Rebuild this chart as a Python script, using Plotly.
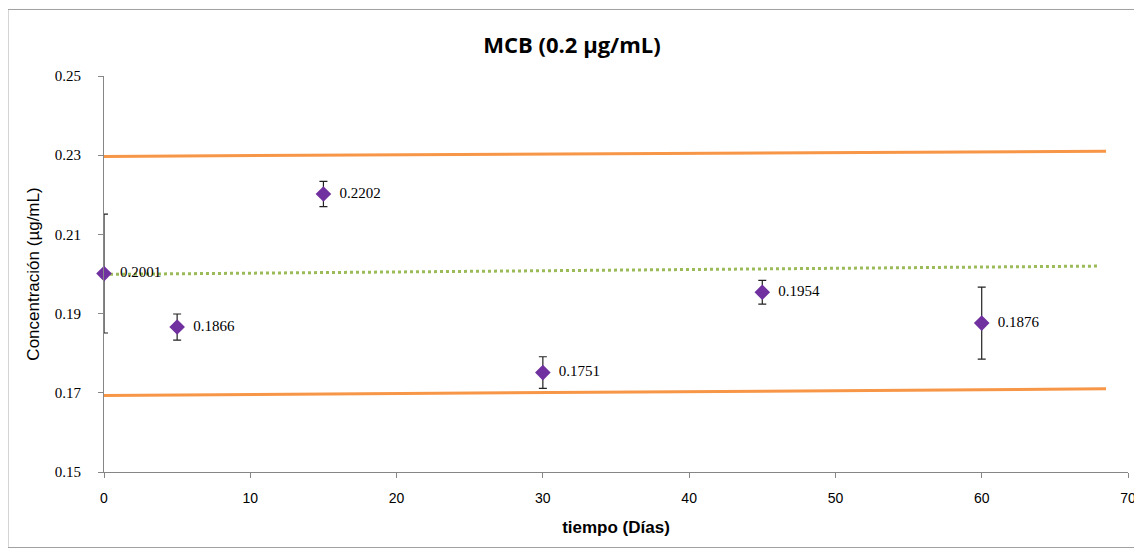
import plotly.graph_objects as go

# Data
dias = [0, 5, 15, 30, 45, 60]
concentracion = [0.2001, 0.1866, 0.2202, 0.1751, 0.1954, 0.1876]
desv = [0.015, 0.0033, 0.0032, 0.004, 0.003, 0.0091]

limite_x = [0, 68.5]
limite_sup = [0.2297, 0.2310]
limite_inf = [0.1693, 0.1710]
tendencia_x = [0, 68]
tendencia_y = [0.1999, 0.2020]

x_ticks = [0, 10, 20, 30, 40, 50, 60, 70]
y_ticks = [0.15, 0.17, 0.19, 0.21, 0.23, 0.25]

ORANGE = "#F79646"
GREEN = "#9BBB59"
PURPLE = "#7030A0"
AXIS = "#868686"

fig = go.Figure()
fig.add_trace(go.Scatter(x=limite_x, y=limite_sup, mode="lines",
                         line=dict(color=ORANGE, width=3), hoverinfo="skip"))
fig.add_trace(go.Scatter(x=limite_x, y=limite_inf, mode="lines",
                         line=dict(color=ORANGE, width=3), hoverinfo="skip"))
fig.add_trace(go.Scatter(x=tendencia_x, y=tendencia_y, mode="lines",
                         line=dict(color=GREEN, width=3, dash="3px,3px"), hoverinfo="skip"))
fig.add_trace(go.Scatter(
    x=dias, y=concentracion, mode="markers+text",
    marker=dict(symbol="diamond", size=12, color=PURPLE),
    error_y=dict(type="data", array=desv, visible=True, color="#222222",
                 thickness=1.2, width=4),
    text=["  " + f"{v:.4f}" for v in concentracion],
    textposition="middle right",
    textfont=dict(family="Liberation Serif, DejaVu Serif, serif", size=15, color="#000000"),
    cliponaxis=False,
))

fig.update_layout(
    width=1142, height=552,
    paper_bgcolor="white", plot_bgcolor="white",
    showlegend=False,
    margin=dict(l=96, r=22, t=68, b=88),
    title=dict(text="<b>MCB (0.2 µg/mL)</b>", x=(572 - 8) / 1142, xanchor="center",
               y=1 - 37 / 552, yanchor="middle",
               font=dict(family="Open Sans, Liberation Sans, sans-serif", size=22, color="#000000")),
    xaxis=dict(range=[0, 70], tickvals=x_ticks, showgrid=False, zeroline=False,
               showline=True, linecolor=AXIS, linewidth=1,
               ticks="outside", ticklen=5, tickcolor=AXIS, ticklabelstandoff=8,
               tickfont=dict(family="Liberation Sans Narrow, Liberation Sans, sans-serif", size=14, color="#000000"),
               title=dict(text="<b>tiempo (Días)</b>", standoff=16,
                          font=dict(family="Liberation Sans Narrow, Liberation Sans, sans-serif", size=17, color="#000000"))),
    yaxis=dict(range=[0.15, 0.25], tickvals=y_ticks, tickformat=".2f",
               showgrid=False, zeroline=False,
               showline=True, linecolor=AXIS, linewidth=1,
               ticks="outside", ticklen=5, tickcolor=AXIS, ticklabelstandoff=14,
               tickfont=dict(family="Liberation Serif, DejaVu Serif, serif", size=15, color="#000000"),
               title=dict(text="Concentración (µg/mL)", standoff=10,
                          font=dict(family="Liberation Sans, Arial, sans-serif", size=17, color="#000000"))),
    shapes=[dict(type="rect", xref="paper", yref="paper",
                 x0=-0.0938, x1=1.0098, y0=-0.1907, y1=1.168,
                 line=dict(color="#A0A0A0", width=1), layer="below")],
)

fig.write_html("out.html")
